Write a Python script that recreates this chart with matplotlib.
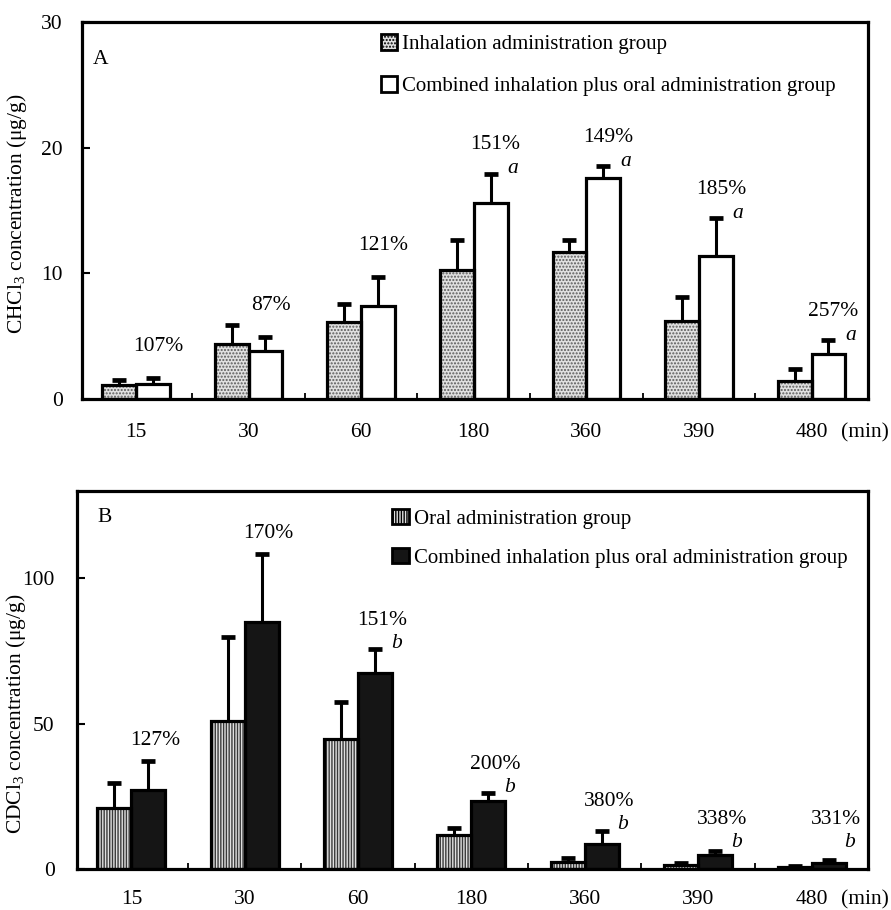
import matplotlib
matplotlib.use('Agg')
import matplotlib.pyplot as plt
import numpy as np
from matplotlib.patches import Patch

plt.rcParams['font.family'] = ['Liberation Serif', 'DejaVu Serif']
plt.rcParams['mathtext.fontset'] = 'custom'
plt.rcParams['mathtext.rm'] = 'Liberation Serif'
plt.rcParams['mathtext.it'] = 'Liberation Serif:italic'
plt.rcParams['hatch.linewidth'] = 1.0

# ---------------- data ----------------
times = ['15', '30', '60', '180', '360', '390', '480']

# Panel A: CHCl3 (ug/g)
a_inh = [1.1, 4.4, 6.15, 10.3, 11.7, 6.2, 1.4]
a_inh_err = [0.45, 1.5, 1.4, 2.4, 1.0, 1.9, 1.0]
a_comb = [1.2, 3.85, 7.4, 15.6, 17.6, 11.4, 3.6]
a_comb_err = [0.5, 1.1, 2.35, 2.35, 0.95, 3.0, 1.1]
a_pct = ['107%', '87%', '121%', '151%', '149%', '185%', '257%']
a_sig = ['', '', '', 'a', 'a', 'a', 'a']
a_labels = ['Inhalation administration group',
            'Combined inhalation plus oral administration group']

# Panel B: CDCl3 (ug/g)
b_oral = [21, 51, 44.7, 11.8, 2.3, 1.45, 0.7]
b_oral_err = [8.7, 28.6, 12.8, 2.4, 1.4, 0.6, 0.4]
b_comb = [27, 85, 67.3, 23.5, 8.5, 4.8, 2.2]
b_comb_err = [10, 23.2, 8.3, 2.5, 4.6, 1.4, 0.9]
b_pct = ['127%', '170%', '151%', '200%', '380%', '338%', '331%']
b_sig = ['', '', 'b', 'b', 'b', 'b', 'b']
b_labels = ['Oral administration group',
            'Combined inhalation plus oral administration group']

FS = 15.5
LFS = 15
W = 0.3

fig = plt.figure(figsize=(8.91, 9.10), dpi=100)
axA = fig.add_axes([0.092, 0.5615, 0.882, 0.414])
axB = fig.add_axes([0.0864, 0.045, 0.888, 0.4157])


def draw_panel(ax, g1, e1, g2, e2, style1, style2, ylim, yticks, ylabel,
               letter, letter_pos, leg_labels, leg_anchor, leg_spacing,
               pct, sig, p, ypad, xpad, ylab_pos, min_offset):
    n = len(times)
    x = np.arange(n)
    ax.set_xlim(-0.48, 6.5)
    ax.set_ylim(*ylim)
    for xs, vals, st in ((x - W / 2, g1, style1), (x + W / 2, g2, style2)):
        ax.bar(xs, vals, W, color=st['face'], hatch=st['hatch'],
               edgecolor=st['hcol'], linewidth=0, zorder=2)
        ax.bar(xs, vals, W, fill=False, edgecolor='black', linewidth=2.3, zorder=3)
    for xs, vals, err in ((x - W / 2, g1, e1), (x + W / 2, g2, e2)):
        ax.errorbar(xs, vals, yerr=[np.zeros(n), err], fmt='none', ecolor='black',
                    elinewidth=2.2, capsize=0, zorder=4)
        ax.plot(xs, np.add(vals, err), linestyle='none', marker='_',
                markersize=10, markeredgewidth=3.4, color='black', zorder=4)

    # annotations
    ppu = ax.bbox.height / (ylim[1] - ylim[0])
    for xi, v, e, pc, s in zip(x + W / 2, g2, e2, pct, sig):
        top_px = (v + e) * ppu
        if s:
            sig_px = max(top_px + p['sig_above'], p['sig_floor'])
            ax.annotate(s, (xi, 0), xytext=(p['sig_dx'], sig_px),
                        textcoords='offset pixels', ha='center', va='center',
                        fontsize=FS, style='italic')
            lab_px = sig_px + p['lab_above_sig']
        else:
            lab_px = top_px + p['lab_above_err']
        ax.annotate(pc, (xi, 0), xytext=(p['lab_dx'], lab_px),
                    textcoords='offset pixels', ha='center', va='center',
                    fontsize=FS)

    ax.set_xticks(x)
    ax.set_xticklabels(times, fontsize=FS)
    ax.set_xticks(x[:-1] + 0.5, minor=True)
    ax.tick_params(axis='x', which='major', length=0, pad=xpad)
    ax.tick_params(axis='x', which='minor', direction='in', length=4, width=1.3)
    ax.set_yticks(yticks)
    ax.tick_params(axis='y', which='major', direction='in', length=6, width=1.5,
                   pad=ypad, labelsize=FS)
    for sp in ax.spines.values():
        sp.set_linewidth(2.3)
    ax.set_ylabel(ylabel, fontsize=FS)
    ax.yaxis.set_label_coords(*ylab_pos)
    ax.text(letter_pos[0], letter_pos[1], letter, transform=ax.transAxes,
            fontsize=FS, ha='center', va='center')
    ax.annotate('(min)', (1.0, 0), xycoords='axes fraction',
                xytext=(-27, min_offset), textcoords='offset pixels',
                ha='left', va='center', fontsize=FS)

    handles = [Patch(facecolor=style1['face'], hatch=style1['hatch'],
                     edgecolor='black', linewidth=2),
               Patch(facecolor=style2['face'], hatch=style2['hatch'],
                     edgecolor='black', linewidth=2)]
    ax.legend(handles, leg_labels, loc='upper left', bbox_to_anchor=leg_anchor,
              frameon=False, borderpad=0, borderaxespad=0, handlelength=0.8,
              handleheight=0.8, handletextpad=0.25, labelspacing=leg_spacing,
              fontsize=LFS)


stipple = {'face': '#e0e0e0', 'hatch': '.....', 'hcol': '#5a5a5a'}
white = {'face': 'white', 'hatch': None, 'hcol': 'white'}
vlines = {'face': '#e0e0e0', 'hatch': '||||||', 'hcol': '#3a3a3a'}
black = {'face': '#151515', 'hatch': None, 'hcol': '#151515'}

draw_panel(axA, a_inh, a_inh_err, a_comb, a_comb_err, stipple, white,
           (0, 30), [0, 10, 20, 30], r'CHCl$_3$ concentration (μg/g)',
           'A', (0.023, 0.90), a_labels, (0.38, 0.97), 1.05,
           a_pct, a_sig,
           {'sig_above': 5, 'sig_floor': 0, 'sig_dx': 22, 'lab_above_sig': 24,
            'lab_above_err': 31, 'lab_dx': 5},
           14, 17, (-0.068, 0.493), -34)

draw_panel(axB, b_oral, b_oral_err, b_comb, b_comb_err, vlines, black,
           (0, 130), [0, 50, 100], r'CDCl$_3$ concentration (μg/g)',
           'B', (0.035, 0.928), b_labels, (0.398, 0.953), 0.9,
           b_pct, b_sig,
           {'sig_above': 6, 'sig_floor': 27, 'sig_dx': 21, 'lab_above_sig': 23,
            'lab_above_err': 21, 'lab_dx': 7},
           16, 15, (-0.062, 0.41), -31)

fig.savefig('out.png', dpi=100)
